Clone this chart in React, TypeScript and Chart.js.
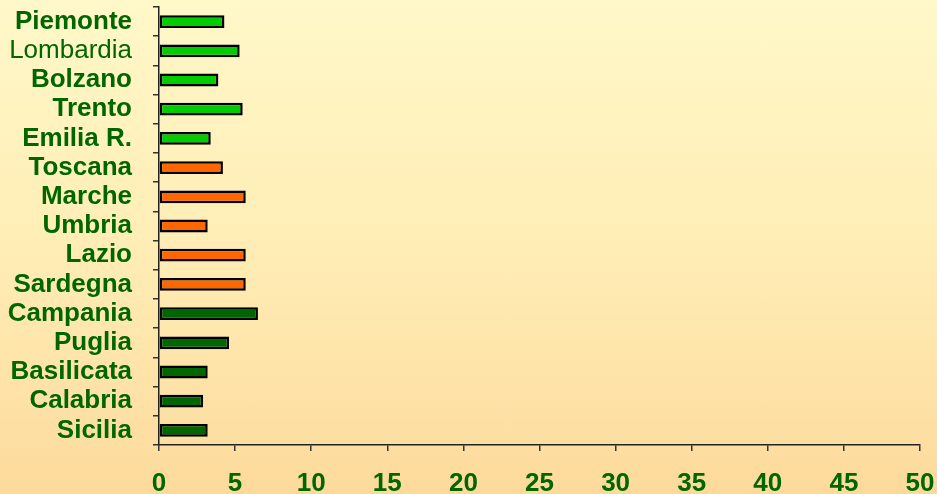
import React, { useEffect, useRef } from "react";
import { Chart, registerables } from "chart.js";

Chart.register(...registerables);

const regions = [
  "Piemonte", "Lombardia", "Bolzano", "Trento", "Emilia R.",
  "Toscana", "Marche", "Umbria", "Lazio", "Sardegna",
  "Campania", "Puglia", "Basilicata", "Calabria", "Sicilia",
];
const values = [4.3, 5.3, 3.9, 5.5, 3.4, 4.2, 5.7, 3.2, 5.7, 5.7, 6.5, 4.6, 3.2, 2.9, 3.2];
const groups = [
  "nord", "nord", "nord", "nord", "nord",
  "centro", "centro", "centro", "centro", "centro",
  "sud", "sud", "sud", "sud", "sud",
];
const xTicks = [0, 5, 10, 15, 20, 25, 30, 35, 40, 45, 50];

const groupColors: Record<string, string> = {
  nord: "#00CC00",
  centro: "#FF6600",
  sud: "#006600",
};

const FONT = "'Liberation Sans', Arial, sans-serif";
const TEXT = "#006600";

export default function App() {
  const ref = useRef<HTMLCanvasElement>(null);
  useEffect(() => {
    document.body.style.margin = "0";
    const ctx = ref.current!;
    const chart = new Chart(ctx, {
      type: "bar",
      data: {
        labels: regions,
        datasets: [
          {
            data: values,
            backgroundColor: groups.map((g) => groupColors[g]),
            borderColor: "#000000",
            borderWidth: 2.5,
            borderSkipped: false,
            barPercentage: 0.44,
            categoryPercentage: 1,
          },
        ],
      },
      options: {
        indexAxis: "y",
        animation: false,
        responsive: false,
        maintainAspectRatio: false,
        layout: { padding: { top: 7, right: 17, left: 0, bottom: 0 } },
        plugins: { legend: { display: false }, tooltip: { enabled: false } },
        scales: {
          x: {
            min: 0,
            max: 50,
            afterBuildTicks: (axis: any) => {
              axis.ticks = xTicks.map((v) => ({ value: v }));
            },
            afterFit: (axis: any) => {
              axis.height = 49;
              axis.paddingLeft = 0;
              axis.paddingRight = 0;
            },
            grid: {
              drawOnChartArea: false,
              drawTicks: true,
              tickLength: 6,
              color: "#333333",
              lineWidth: 1.5,
            },
            border: { display: true, color: "#222222", width: 1.5 },
            ticks: {
              color: TEXT,
              padding: 17,
              font: { family: FONT, size: 26, weight: "bold" },
              maxRotation: 0,
            },
          },
          y: {
            afterFit: (axis: any) => {
              axis.width = 159;
              axis.paddingTop = 0;
              axis.paddingBottom = 0;
            },
            grid: {
              offset: true,
              drawOnChartArea: false,
              drawTicks: true,
              tickLength: 6,
              color: "#333333",
              lineWidth: 1.5,
            },
            border: { display: true, color: "#222222", width: 1.5 },
            ticks: {
              color: TEXT,
              padding: 21,
              autoSkip: false,
              font: (c: any) => ({
                family: FONT,
                size: 26,
                weight: c.index === 1 ? "normal" : "bold",
              }),
            },
          },
        },
      },
    });
    return () => chart.destroy();
  }, []);
  return (
    <div
      style={{
        width: 937,
        height: 494,
        background: "linear-gradient(to bottom, #FFF8C9 0%, #FFEDB5 50%, #FDDA9C 100%)",
      }}
    >
      <canvas ref={ref} width={937} height={494} style={{ display: "block" }} />
    </div>
  );
}
